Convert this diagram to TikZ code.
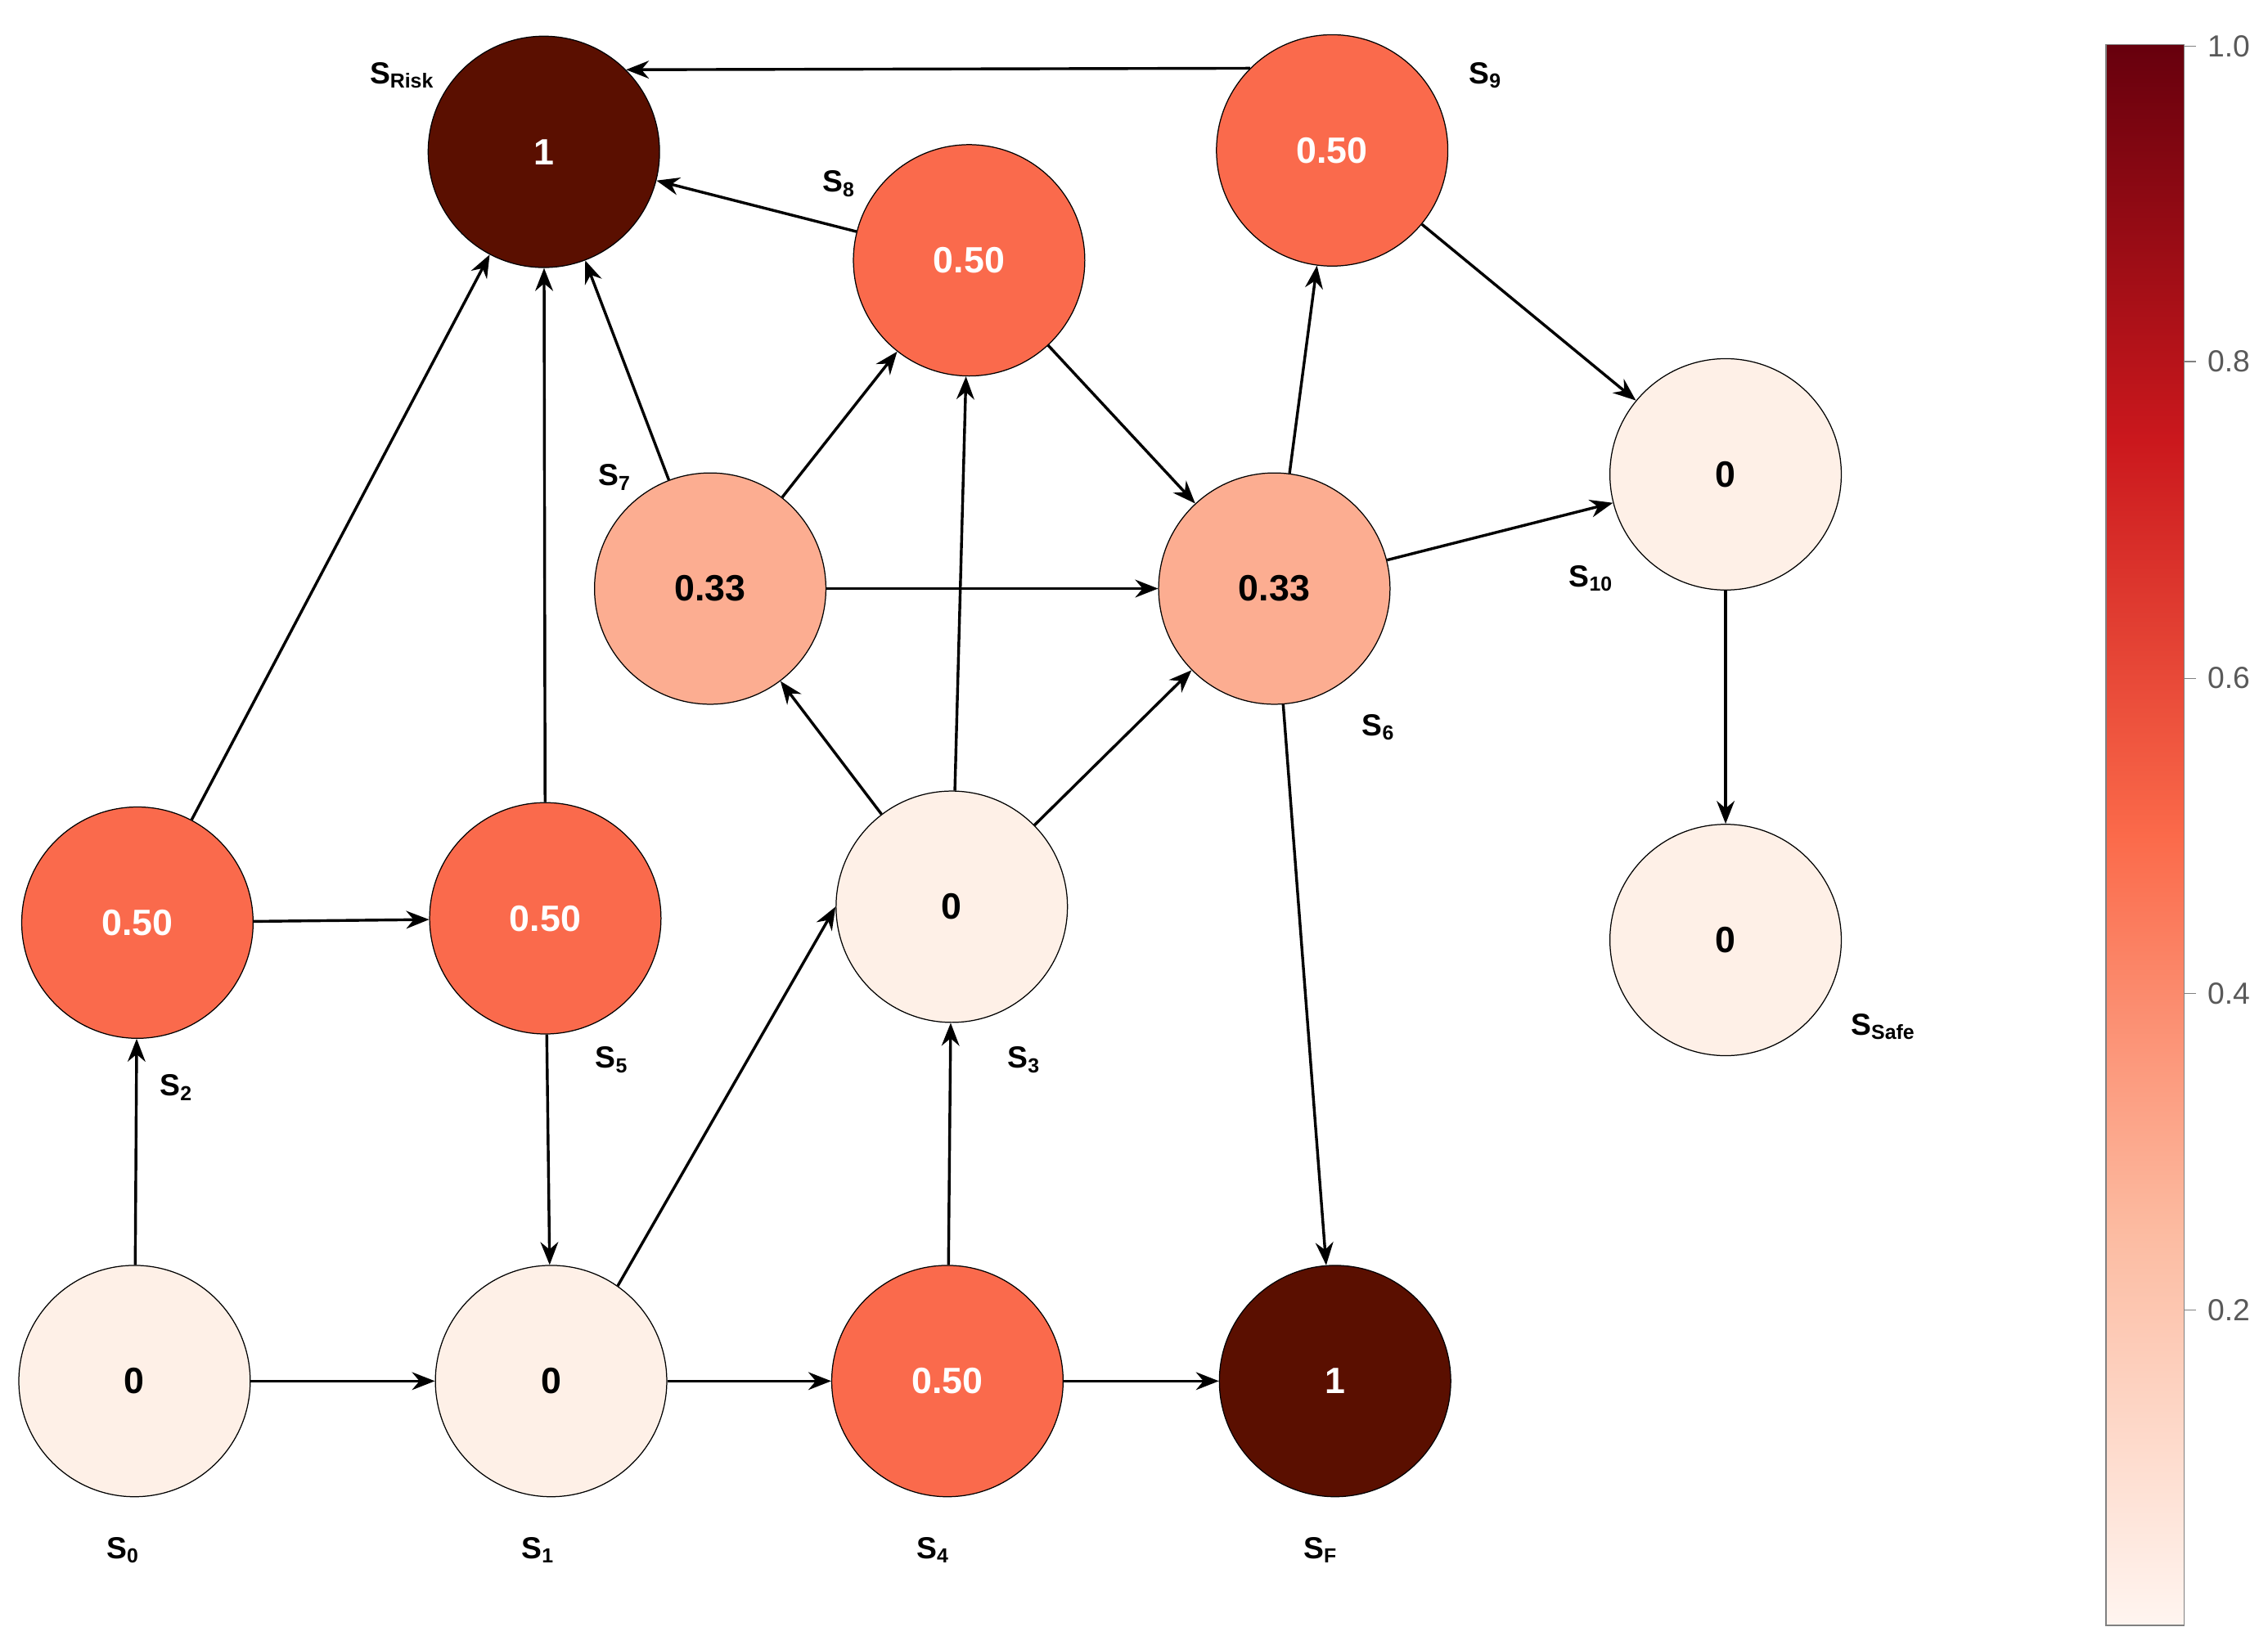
\documentclass[tikz,border=0pt]{standalone}
\usepackage{fontspec}
\setmainfont{Liberation Sans}
\usetikzlibrary{arrows.meta}
\definecolor{rzero}{HTML}{FEF0E7}
\definecolor{rthird}{HTML}{FCAD91}
\definecolor{rhalf}{HTML}{FA6A4C}
\definecolor{rone}{HTML}{5A0F00}
\definecolor{cbA}{HTML}{FFF5F0}
\definecolor{cbB}{HTML}{FCBBA1}
\definecolor{cbC}{HTML}{FB6A4A}
\definecolor{cbD}{HTML}{CB181D}
\definecolor{cbE}{HTML}{67000D}
\tikzstyle{statelabel} = [font=\bfseries\large]
\tikzstyle{nodedecorate}=[shape=circle,draw,thin,minimum size=1.6cm*2,inner sep=0pt,font=\bfseries\Large]
\tikzstyle{arrowdecorate}=[-{Stealth[length=9pt,width=7pt]},line width=1.1pt]

\begin{document}
\begin{tikzpicture}[x=0.02cm,y=-0.02cm]
      \useasboundingbox (0,0) rectangle (1568,1137);
      %% states
      \foreach \nodename/\x/\y/\shade/\txt/\val in { S0/93/955/rzero/black/0,
        S1/381/955/rzero/black/0, S4/655/955/rhalf/white/0.50, SF/923/955/rone/white/1,
        S2/95/638/rhalf/white/0.50, S5/377/635/rhalf/white/0.50, S3/658/627/rzero/black/0,
        S7/491/407/rthird/black/0.33, S6/881/407/rthird/black/0.33, S8/670/180/rhalf/white/0.50,
        SRisk/376/105/rone/white/1, S9/921/104/rhalf/white/0.50, S10/1193/328/rzero/black/0,
        SSafe/1193/650/rzero/black/0}
      {
        \node (\nodename) at (\x,\y) [nodedecorate,fill=\shade,text=\txt] {\val};
      }
      %% state names
      \foreach \x/\y/\sub in {85/1072/0, 372/1072/1, 645/1072/4, 913/1072/F, 122/752/2,
        423/733/5, 708/733/3, 425/330/7, 953/503/6, 580/127/8, 278/52/Risk, 1027/52/9,
        1100/400/10, 1302/710/Safe}
      {
        \node [statelabel] at (\x,\y) {S\textsubscript{\sub}};
      }
      %% transitions
      \foreach \startnode/\endnode in {S0/S1, S1/S4, S4/SF, S0/S2, S2/S5, S5/S1, S4/S3,
        S2/SRisk, S5/SRisk, S7/SRisk, S8/SRisk, S3/S7, S3/S8, S3/S6, S7/S8, S7/S6, S8/S6,
        S6/S9, S6/S10, S6/SF, S9/S10, S10/SSafe}
      {
        \draw[arrowdecorate] (\startnode) -- (\endnode);
      }
      \draw[arrowdecorate] (S1.55) -- (S3.west);
      \draw[arrowdecorate] (S9.135) -- (SRisk.45);
      %% colour bar
      \foreach \ylo/\yhi/\clo/\chi in {1124/851/cbA/cbB, 851/578/cbB/cbC, 578/305/cbC/cbD, 305/31/cbD/cbE}
      {
        \shade[bottom color=\clo,top color=\chi] (1456,\ylo) rectangle (1510,\yhi);
      }
      \node (bar) [draw=gray,line width=0.4pt,minimum width=54*0.02cm,minimum height=1093*0.02cm,
        inner sep=0pt] at (1483,577.5) {};
      \foreach \v/\y in {1.0/32, 0.8/250, 0.6/469, 0.4/687, 0.2/906}
      {
        \draw[gray] (1510,\y) -- (1518,\y);
        \node [anchor=west,text=gray!70!black,font=\large] at (1520,\y) {\v};
      }
\end{tikzpicture}
\end{document}
